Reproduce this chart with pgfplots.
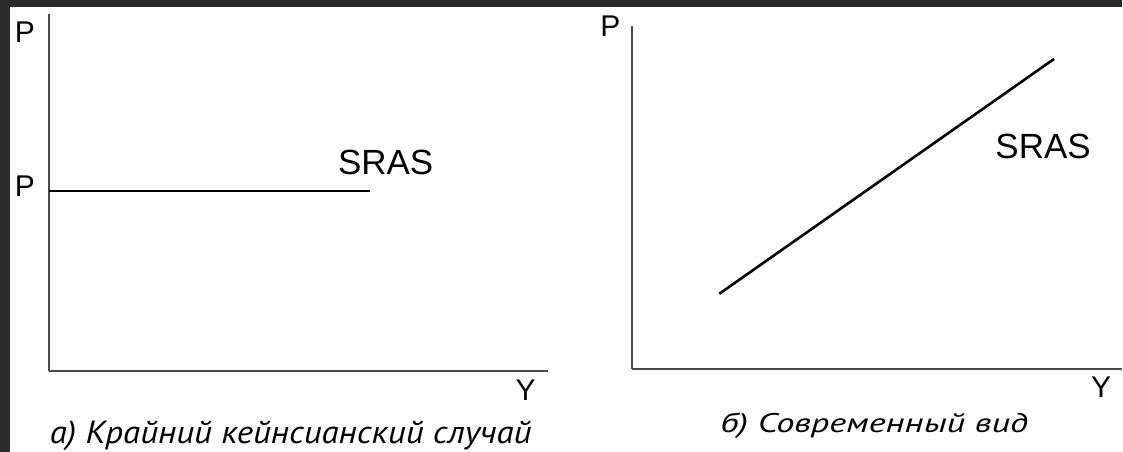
\documentclass[border=0pt]{standalone}
\usepackage{graphicx}
\usepackage{fontspec}
\setmainfont{Liberation Sans}
\newfontfamily\capfont{PT Sans}
\usepackage{pgfplots}
\pgfplotsset{compat=1.18}
\definecolor{bgdark}{HTML}{2B2B2B}
\definecolor{axisgray}{HTML}{4A4A4A}
\begin{document}
\begin{tikzpicture}[x=1pt,y=1pt]
% background and panel
\fill[bgdark] (0,0) rectangle (1123,452);
\fill[white] (10,0) rectangle (1123,445);
% left panel: extreme Keynesian case
\begin{axis}[
  at={(49pt,81pt)}, anchor=south west,
  x=1pt, y=1pt, xmin=0, xmax=499, ymin=0, ymax=357,
  axis lines=left, axis line style={-, line width=2pt, color=axisgray},
  xtick=\empty, ytick=\empty, clip=false]
\addplot[black, line width=2.2pt, mark=none] coordinates {(0,180) (321,180)};
\end{axis}
% right panel: modern view
\begin{axis}[
  at={(633pt,83pt)}, anchor=south west,
  x=1pt, y=1pt, xmin=0, xmax=490, ymin=0, ymax=343,
  axis lines=left, axis line style={-, line width=2pt, color=axisgray},
  xtick=\empty, ytick=\empty, clip=false]
\addplot[black, line width=2.6pt, mark=none] coordinates {(87,75) (422,310)};
\end{axis}
% labels
\begin{scope}[every node/.style={inner sep=0pt, text=black}]
\fontsize{30}{34}\selectfont
\node at (25,419.5) {P};
\node at (25,266) {P};
\node at (611,426) {P};
\node at (526,61) {Y};
\node at (1102,64) {Y};
\fontsize{35}{40}\selectfont
\node at (386,289) {SRAS};
\node at (1044,305) {SRAS};
\fontsize{32}{36}\selectfont
\node[anchor=base] at (291,8) {\resizebox{482pt}{\height}{\capfont\itshape а) Крайний кейнсианский случай}};
\fontsize{27}{32}\selectfont
\node[anchor=base] at (875,19) {\resizebox{308pt}{\height}{\capfont\itshape б) Современный вид}};
\end{scope}
\end{tikzpicture}
\end{document}
